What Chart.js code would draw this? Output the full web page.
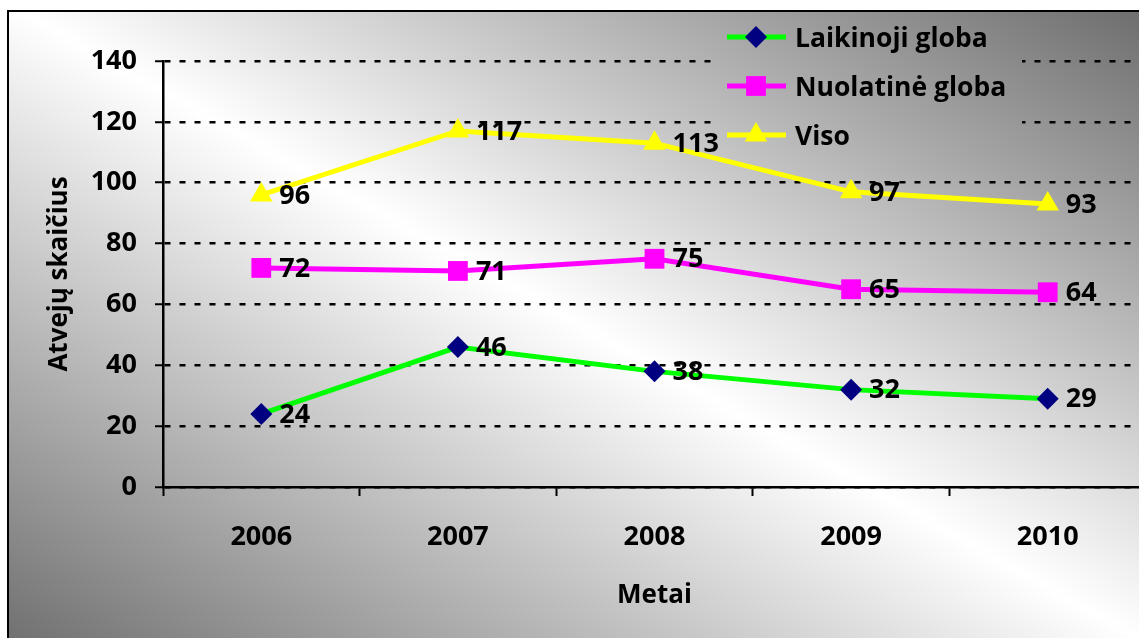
<!DOCTYPE html>
<html>
<head>
<meta charset="utf-8">
<script src="https://cdn.jsdelivr.net/npm/chart.js@4/dist/chart.umd.min.js"></script>
<style>
  html, body { margin: 0; padding: 0; background: #fff; overflow: hidden; width: 1139px; height: 638px; }
  #wrap { position: absolute; left: 0; top: 0; width: 1160px; height: 660px; }
</style>
</head>
<body>
<div id="wrap"><canvas id="myChart" width="1160" height="660"></canvas></div>
<script>
    const years = ['2006', '2007', '2008', '2009', '2010'];
    const laikinoji = [24, 46, 38, 32, 29];
    const nuolatine = [72, 71, 75, 65, 64];
    const viso = [96, 117, 113, 97, 93];
    const seriesNames = ['Laikinoji globa', 'Nuolatinė globa', 'Viso'];
    const yMax = 140;
    const yStep = 20;

    const FONT = '"Open Sans", Lato, sans-serif';

    // diagonal grey-white-grey fill like the excel chart area
    function bgGradient(ctx) {
        const g = ctx.createLinearGradient(297, 804, 841, -166);
        g.addColorStop(0, '#707070');
        g.addColorStop(0.5, '#ffffff');
        g.addColorStop(1, '#6c6c6c');
        return g;
    }

    const background = {
        id: 'background',
        beforeDraw(chart) {
            const ctx = chart.ctx;
            ctx.save();
            ctx.fillStyle = '#fff';
            ctx.fillRect(0, 0, chart.width, chart.height);
            ctx.fillStyle = bgGradient(ctx);
            ctx.fillRect(8, 11, 1200, 700);
            ctx.lineWidth = 2;
            ctx.strokeStyle = '#000';
            ctx.strokeRect(8, 11, 1200, 700);
            ctx.restore();
        }
    };

    const legendBox = { x: 717, y: 14, w: 305, h: 145 };

    const customLegend = {
        id: 'customLegend',
        beforeDatasetsDraw(chart) {
            const ctx = chart.ctx;
            ctx.save();
            // hide gridlines behind the legend
            ctx.fillStyle = bgGradient(ctx);
            ctx.fillRect(legendBox.x, legendBox.y, legendBox.w, legendBox.h);
            chart.data.datasets.forEach((ds, i) => {
                const y = 37 + i * 49;
                ctx.strokeStyle = ds.borderColor;
                ctx.lineWidth = 5;
                ctx.beginPath();
                ctx.moveTo(727, y);
                ctx.lineTo(786, y);
                ctx.stroke();
                ctx.fillStyle = ds.pointBackgroundColor;
                Chart.helpers.drawPoint(ctx, { pointStyle: ds.pointStyle, radius: ds.pointRadius, rotation: 0, borderWidth: 0 }, 756, y);
                ctx.fillStyle = '#000';
                ctx.font = 'bold 26.5px ' + FONT;
                ctx.textAlign = 'left';
                ctx.textBaseline = 'middle';
                ctx.fillText(ds.label, 795, y + 2);
            });
            ctx.restore();
        }
    };

    const valueLabels = {
        id: 'valueLabels',
        afterDatasetsDraw(chart) {
            const ctx = chart.ctx;
            ctx.save();
            ctx.fillStyle = '#000';
            ctx.font = 'bold 27px ' + FONT;
            ctx.textAlign = 'left';
            ctx.textBaseline = 'middle';
            chart.data.datasets.forEach((ds, i) => {
                chart.getDatasetMeta(i).data.forEach((pt, j) => {
                    ctx.fillText(ds.data[j], pt.x + 18, pt.y + 1);
                });
            });
            ctx.restore();
        }
    };

    function createChart() {
        const ctx = document.getElementById('myChart').getContext('2d');
        new Chart(ctx, {
            type: 'line',
            data: {
                labels: years,
                datasets: [{
                    label: seriesNames[0],
                    data: laikinoji,
                    borderColor: '#00ff00',
                    borderWidth: 5,
                    pointStyle: 'rectRot',
                    pointRadius: 11,
                    pointBackgroundColor: '#000080',
                    pointBorderColor: '#000080',
                    pointBorderWidth: 0,
                }, {
                    label: seriesNames[1],
                    data: nuolatine,
                    borderColor: '#ff00ff',
                    borderWidth: 5,
                    pointStyle: 'rect',
                    pointRadius: 14,
                    pointBackgroundColor: '#ff00ff',
                    pointBorderColor: '#ff00ff',
                    pointBorderWidth: 0,
                }, {
                    label: seriesNames[2],
                    data: viso,
                    borderColor: '#ffff00',
                    borderWidth: 5,
                    pointStyle: 'triangle',
                    pointRadius: 13,
                    pointBackgroundColor: '#ffff00',
                    pointBorderColor: '#ffff00',
                    pointBorderWidth: 0,
                }]
            },
            options: {
                responsive: false,
                animation: false,
                layout: { padding: { left: 0, top: 61, right: 10, bottom: 0 } },
                plugins: { legend: { display: false }, tooltip: { enabled: false } },
                elements: { line: { tension: 0 } },
                scales: {
                    x: {
                        offset: true,
                        afterFit(scale) { scale.height = 173; },
                        grid: { display: true, offset: true, drawOnChartArea: false, tickLength: 9, tickColor: '#000', tickWidth: 2 },
                        border: { color: '#000', width: 2.5 },
                        ticks: { color: '#000', padding: 25, font: { family: FONT, weight: 'bold', size: 27 } },
                        title: {
                            display: true,
                            text: 'Metai',
                            color: '#000',
                            font: { family: FONT, weight: 'bold', size: 26 },
                            padding: { top: 0, bottom: 49 }
                        }
                    },
                    y: {
                        min: 0,
                        max: yMax,
                        afterFit(scale) { scale.width = 163; },
                        grid: { color: '#000', lineWidth: 2.5, tickLength: 8, tickColor: '#000', tickWidth: 2, tickBorderDash: [] },
                        border: { color: '#000', width: 2.5, dash: [6, 9] },
                        ticks: { stepSize: yStep, color: '#000', padding: 18, font: { family: FONT, weight: 'bold', size: 27 } },
                        title: {
                            display: true,
                            text: 'Atvejų skaičius',
                            color: '#000',
                            font: { family: FONT, weight: 'bold', size: 26 },
                            padding: { top: 44, bottom: 0 }
                        }
                    }
                }
            },
            plugins: [background, customLegend, valueLabels]
        });
    }

    createChart();
</script>
</body>
</html>
